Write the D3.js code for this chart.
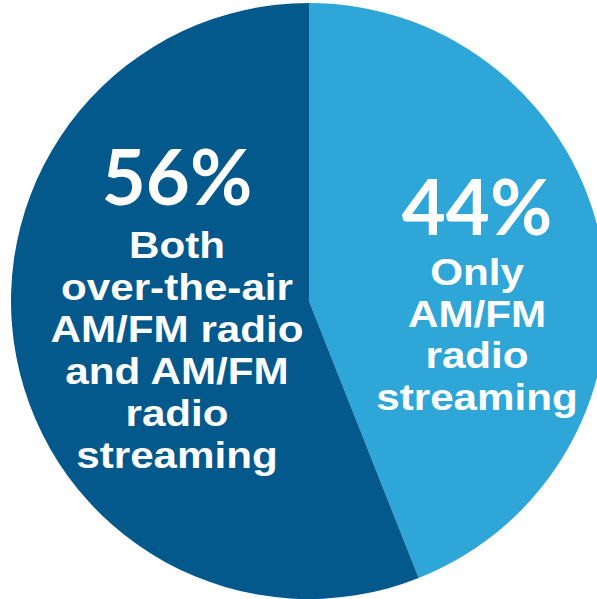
<!DOCTYPE html>
<html><head><meta charset="utf-8">
<script src="https://cdn.jsdelivr.net/npm/d3@7"></script>
<style>html,body{margin:0;padding:0;background:#fff;overflow:hidden}</style>
</head><body>
<svg id="chart" width="597" height="599"></svg>
<script>
const categories = ["Only AM/FM radio streaming", "Both over-the-air AM/FM radio and AM/FM radio streaming"];
const values = [44, 56];
const colors = ["#2fa6d8", "#03598c"];
const pctLabels = ["44%", "56%"];
const labelLines = [["Only", "AM/FM", "radio", "streaming"], ["Both", "over-the-air", "AM/FM radio", "and AM/FM", "radio", "streaming"]];

const svg = d3.select("#chart");
const cx = 309, cy = 301, r = 298;
const g = svg.append("g").attr("transform", `translate(${cx},${cy})`);
const pie = d3.pie().sort(null).value(d => d)(values);
const arc = d3.arc().innerRadius(0).outerRadius(r);
g.selectAll("path").data(pie).join("path")
  .attr("d", arc).attr("fill", (d, i) => colors[i]);

const anchors = [{x: 168, pctY: -66, y0: -16, step: 41.6, pctSize: 76, size: 37, sx: 1.14},
                 {x: -132, pctY: -96, y0: -43, step: 42, pctSize: 76, size: 37, sx: 1.14}];
pie.forEach((d, i) => {
  const a = anchors[i];
  g.append("text").attr("fill", "#fff")
    .attr("font-family", "Lato, sans-serif").attr("font-weight", 700)
    .attr("text-anchor", "middle").attr("font-size", a.pctSize)
    .attr("x", a.x).attr("y", a.pctY).text(pctLabels[i]);
  const t = g.append("text").attr("fill", "#fff")
    .attr("font-family", "'Liberation Sans', Arial, sans-serif").attr("font-weight", 700)
    .attr("text-anchor", "middle").attr("font-size", a.size)
    .attr("transform", `translate(${a.x},0) scale(${a.sx},1)`);
  labelLines[i].forEach((ln, j) => {
    t.append("tspan").attr("x", 0).attr("y", a.y0 + j * a.step).text(ln);
  });
});
</script>
</body></html>
